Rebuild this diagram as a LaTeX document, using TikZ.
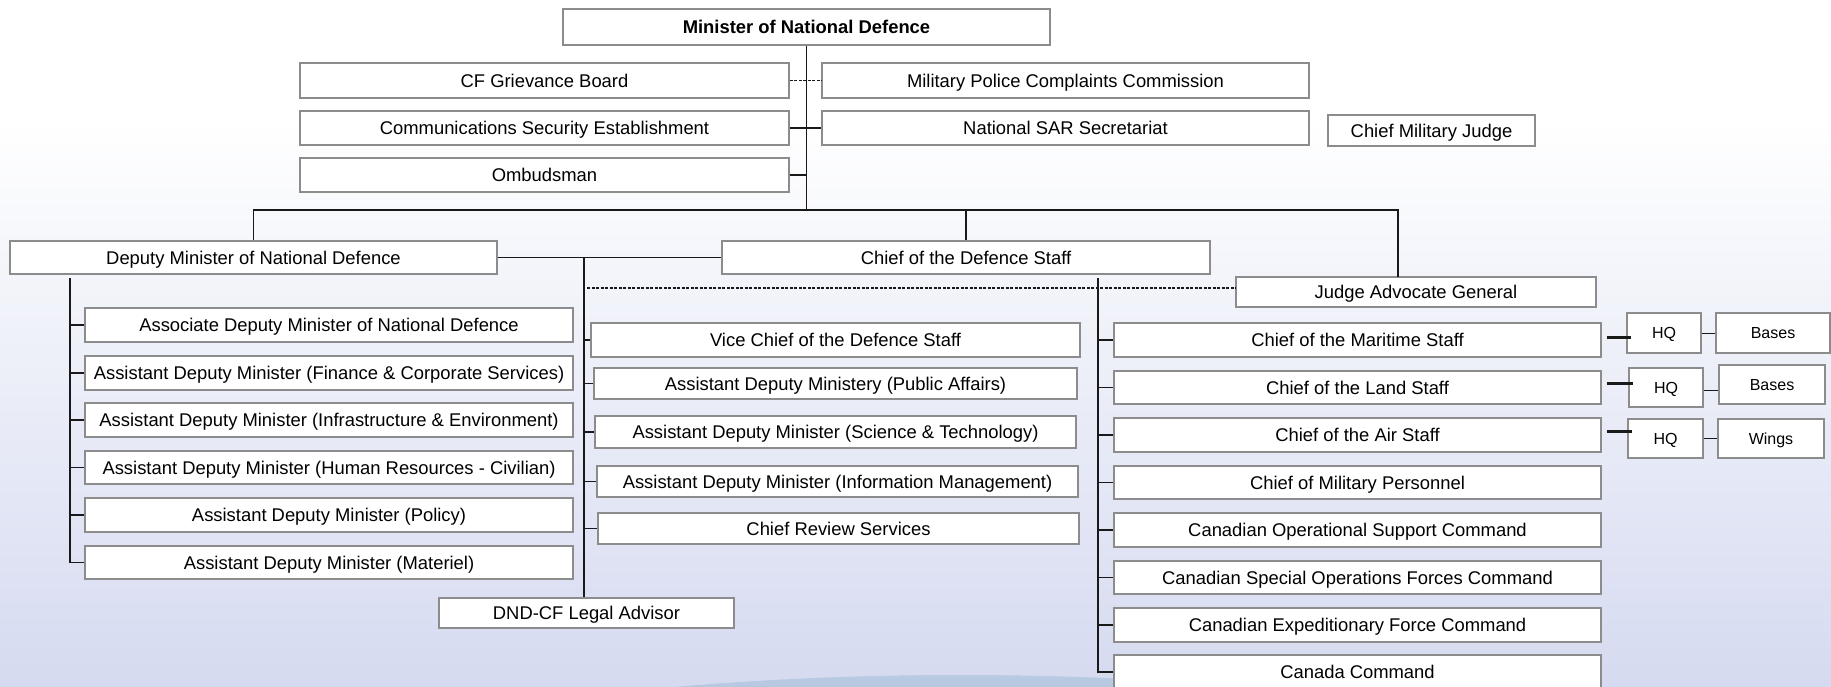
\documentclass[tikz,border=0pt]{standalone}
\usepackage{fontspec}
\setmainfont{Liberation Sans}
\begin{document}
\begin{tikzpicture}[x=1pt,y=-1pt,
  box/.style={draw={rgb,255:red,140;green,140;blue,140}, line width=1.4pt, fill=white, inner sep=0pt,
    font=\fontsize{18.4pt}{22pt}\selectfont, text=black, text height=13.2pt, text depth=0pt},
  small/.style={box, font=\fontsize{16pt}{19pt}\selectfont, text height=11.5pt},
  conn/.style={draw={rgb,255:red,25;green,25;blue,25}, line width=1.3pt},
  dconn/.style={conn, dashed, dash pattern=on 3pt off 1.5pt, line width=1.1pt},
  thk/.style={conn, line width=3pt}]
\useasboundingbox (0,0) rectangle (1831,687);
\begin{scope}
\clip (0,0) rectangle (1831,687);
% background
\fill[white] (0,0) rectangle (1831,120);
\shade[top color=white, bottom color={rgb,255:red,213;green,218;blue,240}] (0,120) rectangle (1831,687);
\shade[top color={rgb,255:red,185;green,202;blue,226}, bottom color={rgb,255:red,140;green,170;blue,210}]
  (960,800) ellipse [x radius=666pt, y radius=125pt];

% top level
\node[box, minimum width=487pt, minimum height=36pt, font=\fontsize{18.4pt}{22pt}\selectfont\bfseries] (min) at (806.5,27) {Minister of National Defence};
\node[box, minimum width=489pt, minimum height=35pt] (cfgb) at (544.5,80.5) {CF Grievance Board};
\node[box, minimum width=487pt, minimum height=35pt] (mpcc) at (1065.5,80.5) {Military Police Complaints Commission};
\node[box, minimum width=489pt, minimum height=34pt] (cse) at (544.5,128) {Communications Security Establishment};
\node[box, minimum width=487pt, minimum height=34pt] (sar) at (1065.5,128) {National SAR Secretariat};
\node[box, minimum width=489pt, minimum height=34pt] (omb) at (544.5,175) {Ombudsman};
\node[box, minimum width=207pt, minimum height=31pt] (cmj) at (1431.5,130.5) {Chief Military Judge};

\node[box, minimum width=487pt, minimum height=33pt] (dm) at (253.5,257.5) {Deputy Minister of National Defence};
\node[box, minimum width=488pt, minimum height=33pt] (cds) at (966,257.5) {Chief of the Defence Staff};
\node[box, minimum width=360pt, minimum height=30pt] (jag) at (1416,292) {Judge Advocate General};

% DM column
\node[box, minimum width=488pt, minimum height=34pt] (assoc) at (329,325) {Associate Deputy Minister of National Defence};
\node[box, minimum width=488pt, minimum height=34pt] (fin) at (329,373) {Assistant Deputy Minister (Finance \& Corporate Services)};
\node[box, minimum width=488pt, minimum height=34pt] (infra) at (329,420) {Assistant Deputy Minister (Infrastructure \& Environment)};
\node[box, minimum width=488pt, minimum height=33pt] (hr) at (329,467.5) {Assistant Deputy Minister (Human Resources - Civilian)};
\node[box, minimum width=488pt, minimum height=34pt] (pol) at (329,515) {Assistant Deputy Minister (Policy)};
\node[box, minimum width=488pt, minimum height=33pt] (mat) at (329,562.5) {Assistant Deputy Minister (Materiel)};

% middle column
\node[box, minimum width=489pt, minimum height=34pt] (vcds) at (835.5,340) {Vice Chief of the Defence Staff};
\node[box, minimum width=483pt, minimum height=31pt] (pa) at (835.5,383.5) {Assistant Deputy Ministery (Public Affairs)};
\node[box, minimum width=481pt, minimum height=32pt] (st) at (835.5,432) {Assistant Deputy Minister (Science \& Technology)};
\node[box, minimum width=481pt, minimum height=31pt] (im) at (837.5,481.5) {Assistant Deputy Minister (Information Management)};
\node[box, minimum width=481pt, minimum height=31pt] (crs) at (838.5,528.5) {Chief Review Services};
\node[box, minimum width=295pt, minimum height=30pt] (legal) at (586.5,613) {DND-CF Legal Advisor};

% right column
\node[box, minimum width=487pt, minimum height=34pt] (cms) at (1357.5,340) {Chief of the Maritime Staff};
\node[box, minimum width=487pt, minimum height=33pt] (cls) at (1357.5,387.5) {Chief of the Land Staff};
\node[box, minimum width=487pt, minimum height=34pt] (cas) at (1357.5,435) {Chief of the Air Staff};
\node[box, minimum width=487pt, minimum height=33pt] (cmp) at (1357.5,482.5) {Chief of Military Personnel};
\node[box, minimum width=487pt, minimum height=34pt] (canos) at (1357.5,530) {Canadian Operational Support Command};
\node[box, minimum width=487pt, minimum height=33pt] (cansof) at (1357.5,577.5) {Canadian Special Operations Forces Command};
\node[box, minimum width=487pt, minimum height=34pt] (cef) at (1357.5,625) {Canadian Expeditionary Force Command};
\node[box, minimum width=487pt, minimum height=34pt] (cancom) at (1357.5,672) {Canada Command};

% HQ boxes
\node[small, minimum width=74pt, minimum height=40pt] (hq1) at (1664,333) {HQ};
\node[small, minimum width=114pt, minimum height=40pt] (bases1) at (1773,333) {Bases};
\node[small, minimum width=74pt, minimum height=39pt] (hq2) at (1666,387.5) {HQ};
\node[small, minimum width=106pt, minimum height=39pt] (bases2) at (1772,384.5) {Bases};
\node[small, minimum width=75pt, minimum height=39pt] (hq3) at (1665.5,438.5) {HQ};
\node[small, minimum width=106pt, minimum height=39pt] (wings) at (1771,438.5) {Wings};

% coordinates
\coordinate (bus) at (806.5,210);
\coordinate (jagdrop) at (1398,277);
\coordinate (legv) at (584,257.5);
\coordinate (dmv) at (70,278);
\coordinate (cdsv) at (1098,278);
\coordinate (dashL) at (587,288);

% connectors top
\draw[conn] (min.south) -- (bus);
\draw[conn] (dm.north) |- (bus);
\draw[conn] (bus) -| (jagdrop);
\draw[conn] (cds.north |- bus) -- (cds.north);
\draw[dconn] (cfgb.east) -- (mpcc.west);
\draw[conn] (cse.east) -- (sar.west);
\draw[conn] (omb.east) -- (omb.east -| min.south);

% DM - CDS
\draw[conn] (dm.east) -- (cds.west);
\draw[conn] (legv) -- (legal.north -| legv);
\draw[dconn] (dashL) -- (jag.west |- dashL);

% DM column
\draw[conn] (dmv) |- (mat.west);
\foreach \n in {assoc,fin,infra,hr,pol}
  \draw[conn] (\n.west -| dmv) -- (\n.west);

% middle column
\foreach \n in {vcds,pa,st,im,crs}
  \draw[conn] (\n.west -| legv) -- (\n.west);

% right column
\draw[conn] (cdsv) |- (cancom.west);
\foreach \n in {cms,cls,cas,cmp,canos,cansof,cef}
  \draw[conn] (\n.west -| cdsv) -- (\n.west);

% HQ links
\draw[thk] ([shift={(5pt,3pt)}]cms.east) -- ([shift={(5pt,3pt)}]cms.east -| hq1.west);
\draw[thk] ([shift={(5pt,4pt)}]cls.east) -- ([shift={(5pt,4pt)}]cls.east -| hq2.west);
\draw[thk] ([shift={(5pt,4pt)}]cas.east) -- ([shift={(5pt,4pt)}]cas.east -| hq3.west);
\draw[conn, line width=1pt] (hq1.east) -- (hq1.east -| bases1.west);
\draw[conn, line width=1pt] ([yshift=-3pt]hq2.east) -- ([yshift=-3pt]hq2.east -| bases2.west);
\draw[conn, line width=1pt] (hq3.east) -- (hq3.east -| wings.west);
\end{scope}
\end{tikzpicture}
\end{document}
